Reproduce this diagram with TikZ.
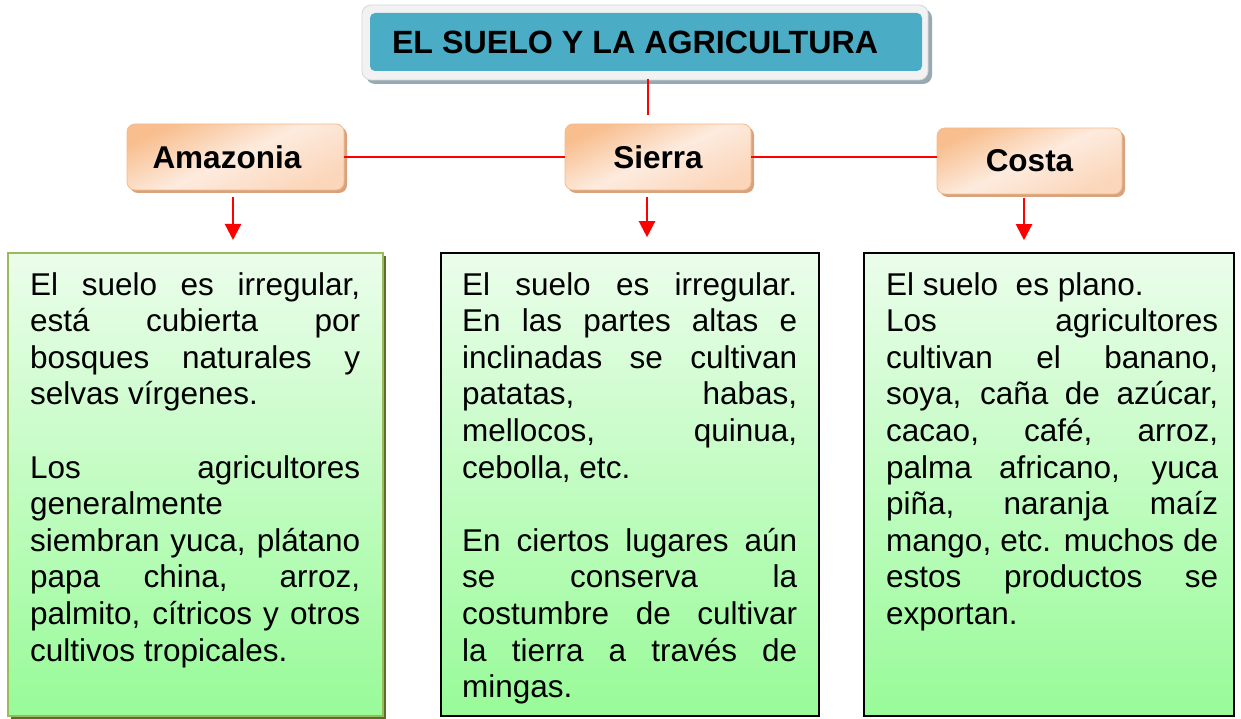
\documentclass[tikz,border=0pt]{standalone}
\usepackage{fontspec}
\setmainfont{Liberation Sans}
\usetikzlibrary{arrows.meta,shadows,calc}
\definecolor{titleTeal}{HTML}{4BACC6}
\definecolor{frameFill}{HTML}{F2F2F2}
\definecolor{frameLine}{HTML}{D4D8DA}
\definecolor{frameShadow}{HTML}{97A9B2}
\definecolor{peachBorder}{HTML}{F7BA8A}
\definecolor{peachDark}{HTML}{F8BE8E}
\definecolor{peachLight}{HTML}{FDEBDE}
\definecolor{peachMid}{HTML}{FBD6BA}
\definecolor{peachShadow}{HTML}{D6A37E}
\definecolor{greenTop}{HTML}{EBFDEB}
\definecolor{greenBot}{HTML}{98FB98}
\definecolor{oliveLine}{HTML}{9BBB59}
\definecolor{oliveDark}{HTML}{5A6E2E}
\definecolor{linkRed}{HTML}{FF0000}
\newcommand\Jl[1]{\makebox[\linewidth][s]{#1}\par}
\newcommand\Ll[1]{#1\par}
\newcommand\bodyfont{\fontsize{31.5pt}{36.6pt}\selectfont}
\begin{document}
\begin{tikzpicture}[x=1pt,y=-1pt,
  catbox/.style={rounded corners=8pt, draw=peachBorder, line width=0.8pt,
    top color=peachDark, bottom color=peachMid, middle color=peachLight, shading angle=25,
    minimum width=186pt, minimum height=66pt, inner sep=0pt,
    font=\fontsize{31.5pt}{36pt}\selectfont\bfseries,
    drop shadow={shadow xshift=3pt, shadow yshift=-3pt, fill=peachShadow, opacity=1}},
  contbox/.style={top color=greenTop, bottom color=greenBot, draw=black, line width=1.6pt,
    inner sep=0pt},
  txt/.style={anchor=base west, inner sep=0pt},
  link/.style={draw=linkRed, line width=2.2pt},
  arr/.style={link, -{Triangle[length=16pt,width=16pt]}}
]
\useasboundingbox (0,0) rectangle (1241,719);

% title frame
\fill[frameShadow, rounded corners=9pt] (366,9) rectangle (932,84);
\filldraw[fill=frameFill, draw=frameLine, line width=0.8pt, rounded corners=9pt] (362,5) rectangle (928,80);
\node[fill=titleTeal, rounded corners=5pt, minimum width=552pt, minimum height=58pt, inner sep=0pt,
  font=\fontsize{32.2pt}{36pt}\selectfont\bfseries] (title) at (646,42)
  {\makebox[508pt][l]{EL SUELO Y LA AGRICULTURA}};

% category boxes
\node[catbox, minimum width=217pt] (amaz) at (235.5,157) {\makebox[166pt][l]{Amazonia}};
\node[catbox] (sierra) at (658,157) {Sierra};
\node[catbox, minimum width=185pt] (costa) at (1029.5,161) {Costa};

% content boxes
\node[contbox, draw=oliveLine, line width=2pt, minimum width=375pt, minimum height=463pt,
  drop shadow={shadow xshift=3pt, shadow yshift=-3pt, fill=oliveDark, opacity=1}]
  (boxA) at (195.5,484.5) {};
\node[contbox, minimum width=378pt, minimum height=463pt] (boxS) at (630,484.5) {};
\node[contbox, minimum width=370pt, minimum height=463pt] (boxC) at (1049,484.5) {};

% connectors
\coordinate (tEnd) at (648,115);
\draw[link, shorten <=8pt] ([xshift=2pt]title.south) -- (tEnd);
\draw[link] (amaz.east) -- (sierra.west);
\draw[link] (sierra.east) -- (sierra.east -| costa.west);
\draw[arr, shorten <=7pt, shorten >=12pt] ([xshift=-2.5pt]amaz.south) -- ([xshift=-2.5pt]amaz.south |- boxA.north);
\draw[arr, shorten <=7pt, shorten >=15pt] ([xshift=-11pt]sierra.south) -- ([xshift=-11pt]sierra.south |- boxS.north);
\draw[arr, shorten <=4pt, shorten >=12pt] ([xshift=-5.5pt]costa.south) -- ([xshift=-5.5pt]costa.south |- boxC.north);

% texts
\node[txt] (txtA) at (30,295) {\parbox[t]{330pt}{\bodyfont
\Jl{El suelo es irregular,}
\Jl{está cubierta por}
\Jl{bosques naturales y}
\Ll{selvas vírgenes.}
\Ll{\mbox{}}
\Jl{Los agricultores}
\Ll{generalmente}
\Jl{siembran yuca, plátano}
\Jl{papa china, arroz,}
\Jl{palmito, cítricos y otros}
\Ll{cultivos tropicales.}}};

\node[txt] (txtS) at (462,295) {\parbox[t]{335pt}{\bodyfont
\Jl{El suelo es irregular.}
\Jl{En las partes altas e}
\Jl{inclinadas se cultivan}
\Jl{patatas, habas,}
\Jl{mellocos, quinua,}
\Ll{cebolla, etc.}
\Ll{\mbox{}}
\Jl{En ciertos lugares aún}
\Jl{se conserva la}
\Jl{costumbre de cultivar}
\Jl{la tierra a través de}
\Ll{mingas.}}};

\node[txt] (txtC) at (886,295) {\parbox[t]{332pt}{\bodyfont
\Ll{El suelo~ es plano.}
\Jl{Los agricultores}
\Jl{cultivan el banano,}
\Jl{soya, caña de azúcar,}
\Jl{cacao, café, arroz,}
\Jl{palma africano, yuca}
\Jl{piña, naranja maíz}
\Jl{mango, etc. muchos de}
\Jl{estos productos se}
\Ll{exportan.}}};
\end{tikzpicture}
\end{document}
